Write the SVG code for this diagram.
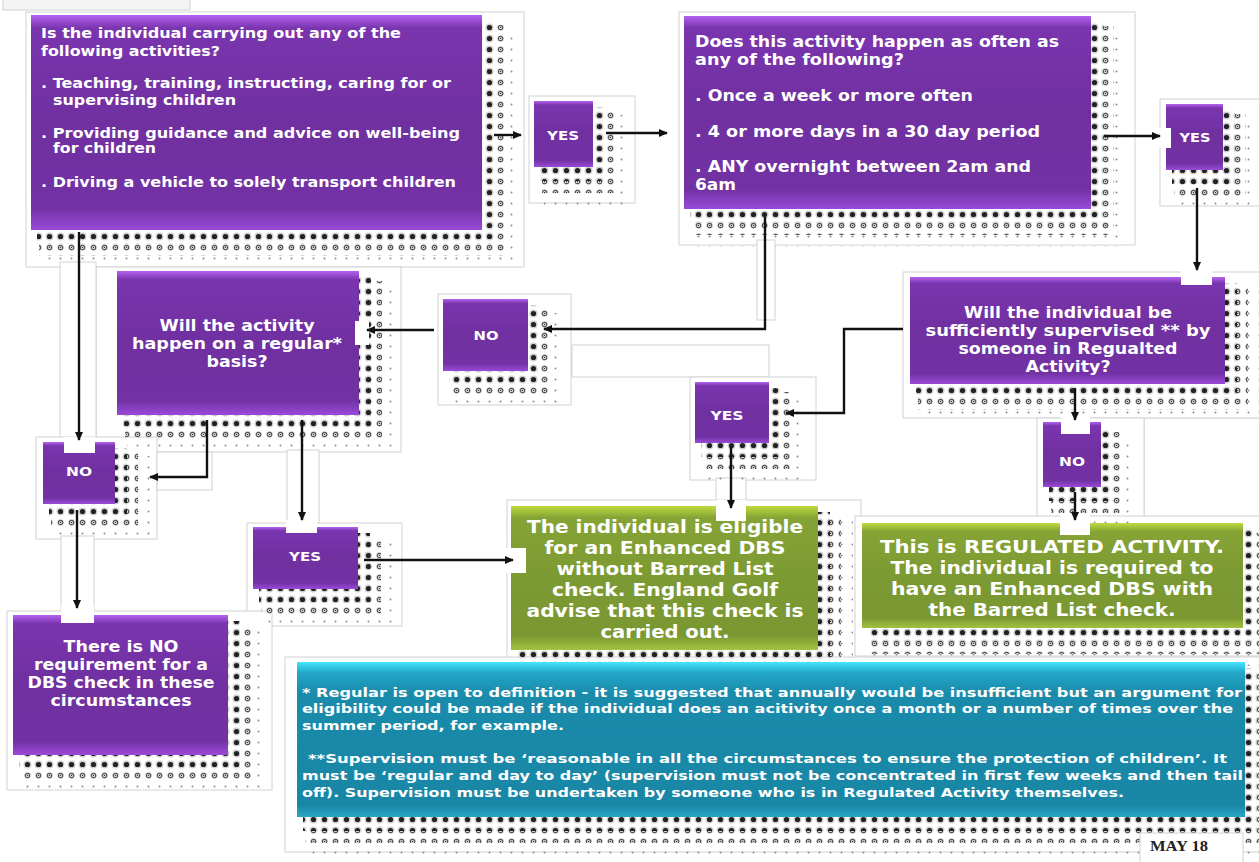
<svg xmlns="http://www.w3.org/2000/svg" width="1259" height="862" viewBox="0 0 1259 862">
<defs>
<style>
.pn{fill:#fff;stroke:#d2d2d2;stroke-width:1}
.nt{fill:#fff}
.ft{fill:url(#dFt)}
.md{fill:url(#dMd)}
.dk{fill:url(#dDk)}
.pu{fill:url(#gPu)}
.gn{fill:url(#gGn)}
.bl{fill:url(#gBl)}
.ar{fill:none;stroke:#111;stroke-width:2.4;marker-end:url(#ah)}
.t{font-family:"DejaVu Sans",Verdana,sans-serif;font-weight:bold;fill:#fff}
.s13{font-size:13.5px}
.s15{font-size:15px}
.s17{font-size:17.5px}
.sb{font-size:13px}
.yn{font-size:12.5px}
.c{text-anchor:middle}
</style>
<pattern id="dFt" width="11" height="11" patternUnits="userSpaceOnUse"><circle cx="5.5" cy="5.5" r="1" fill="#8a8a8a"/></pattern>
<pattern id="dMd" width="11" height="11" patternUnits="userSpaceOnUse"><circle cx="5.5" cy="5.5" r="3.4" fill="#e2e2e2"/><circle cx="5.5" cy="5.5" r="2.2" fill="#fff" stroke="#555" stroke-width="1.2"/><circle cx="5.5" cy="5.5" r="0.8" fill="#333"/></pattern>
<pattern id="dDk" width="11" height="11" patternUnits="userSpaceOnUse"><circle cx="5.5" cy="5.5" r="4" fill="#cfcfcf"/><circle cx="5.5" cy="5.5" r="2.6" fill="#222"/></pattern>
<linearGradient id="gPu" x1="0" y1="0" x2="0" y2="1">
<stop offset="0" stop-color="#b463f0"/><stop offset="0.06" stop-color="#7a35ae"/><stop offset="0.5" stop-color="#7030a0"/><stop offset="0.9" stop-color="#7232a4"/><stop offset="1" stop-color="#9a4ad8"/>
</linearGradient>
<linearGradient id="gGn" x1="0" y1="0" x2="0" y2="1">
<stop offset="0" stop-color="#bedc40"/><stop offset="0.08" stop-color="#86a336"/><stop offset="0.5" stop-color="#7c9a33"/><stop offset="0.9" stop-color="#7a9732"/><stop offset="1" stop-color="#a2c240"/>
</linearGradient>
<linearGradient id="gBl" x1="0" y1="0" x2="0" y2="1">
<stop offset="0" stop-color="#44e4ff"/><stop offset="0.07" stop-color="#22a6c8"/><stop offset="0.2" stop-color="#1a8bab"/><stop offset="0.92" stop-color="#1986a5"/><stop offset="1" stop-color="#2aa6c6"/>
</linearGradient>
<marker id="ah" viewBox="0 0 9 8" markerWidth="9" markerHeight="8" refX="8" refY="4" orient="auto" markerUnits="userSpaceOnUse"><path d="M0,0 L9,4 L0,8 z" fill="#111"/></marker>
</defs>
<rect width="1259" height="862" fill="#fff"/>
<g id="panels">
<rect x="3" y="-1" width="187" height="11" fill="#f4f4f4" stroke="#d2d2d2"/>
<rect class="pn" x="26" y="12" width="498" height="255"/>
<rect class="pn" x="529" y="96" width="106" height="107"/>
<rect class="pn" x="679" y="12" width="456" height="233"/>
<rect class="pn" x="1160" y="99" width="105" height="107"/>
<rect class="pn" x="1144" y="418" width="120" height="100"/>
<rect class="pn" x="903" y="272" width="362" height="146"/>
<rect class="pn" x="757" y="240" width="18" height="80"/>
<rect class="pn" x="572" y="345" width="197" height="32"/>
<rect class="pn" x="438" y="294" width="133" height="111"/>
<rect class="pn" x="96" y="267" width="305" height="185"/>
<rect class="pn" x="60" y="262" width="36" height="178"/>
<rect class="pn" x="36" y="437" width="121" height="102"/>
<rect class="pn" x="157" y="452" width="55" height="38"/>
<rect class="pn" x="287" y="450" width="32" height="80"/>
<rect class="pn" x="247" y="523" width="155" height="103"/>
<rect class="pn" x="61" y="536" width="33" height="80"/>
<rect class="pn" x="7" y="611" width="265" height="179"/>
<rect class="pn" x="690" y="377" width="126" height="103"/>
<rect class="pn" x="716" y="478" width="30" height="30"/>
<rect class="pn" x="1037" y="418" width="107" height="100"/>
<rect class="pn" x="507" y="500" width="354" height="160"/>
<rect class="pn" x="855" y="516" width="410" height="140"/>
<rect class="pn" x="285" y="657" width="980" height="195"/>
</g>
<g id="shadows">
<rect class="ft" x="41" y="29" width="476" height="239"/><rect class="md" x="39" y="25" width="466" height="231"/><rect class="dk" x="37" y="21" width="457" height="223"/>
<rect class="ft" x="544" y="115" width="84" height="90"/><rect class="md" x="542" y="111" width="74" height="82"/><rect class="dk" x="540" y="107" width="65" height="74"/>
<rect class="ft" x="694" y="30" width="432" height="217"/><rect class="md" x="692" y="26" width="422" height="209"/><rect class="dk" x="690" y="22" width="413" height="201"/>
<rect class="ft" x="1176" y="118" width="82" height="90"/><rect class="md" x="1174" y="114" width="72" height="82"/><rect class="dk" x="1172" y="110" width="63" height="74"/>
<rect class="ft" x="920" y="291" width="340" height="131"/><rect class="md" x="918" y="287" width="330" height="123"/><rect class="dk" x="916" y="283" width="321" height="115"/>
<rect class="ft" x="453" y="313" width="110" height="96"/><rect class="md" x="451" y="309" width="100" height="88"/><rect class="dk" x="449" y="305" width="91" height="80"/>
<rect class="ft" x="127" y="285" width="267" height="168"/><rect class="md" x="125" y="281" width="257" height="160"/><rect class="dk" x="123" y="277" width="248" height="152"/>
<rect class="ft" x="53" y="456" width="97" height="86"/><rect class="md" x="51" y="452" width="87" height="78"/><rect class="dk" x="49" y="448" width="78" height="70"/>
<rect class="ft" x="705" y="396" width="99" height="85"/><rect class="md" x="703" y="392" width="89" height="77"/><rect class="dk" x="701" y="388" width="80" height="69"/>
<rect class="ft" x="1053" y="436" width="83" height="89"/><rect class="md" x="1051" y="432" width="73" height="81"/><rect class="dk" x="1049" y="428" width="64" height="73"/>
<rect class="ft" x="263" y="541" width="130" height="86"/><rect class="md" x="261" y="537" width="120" height="78"/><rect class="dk" x="259" y="533" width="111" height="70"/>
<rect class="ft" x="521" y="520" width="332" height="168"/><rect class="md" x="519" y="516" width="322" height="160"/><rect class="dk" x="517" y="512" width="313" height="152"/>
<rect class="ft" x="872" y="537" width="406" height="129"/><rect class="md" x="870" y="533" width="396" height="121"/><rect class="dk" x="868" y="529" width="387" height="113"/>
<rect class="ft" x="23" y="629" width="240" height="164"/><rect class="md" x="21" y="625" width="230" height="156"/><rect class="dk" x="19" y="621" width="221" height="148"/>
<rect class="ft" x="307" y="676" width="973" height="179"/><rect class="md" x="305" y="672" width="963" height="171"/><rect class="dk" x="303" y="668" width="954" height="163"/>
</g>
<g id="q1">
<rect class="pu" x="31" y="15" width="451" height="215"/>
<text class="t s13" x="41" y="38" textLength="360" lengthAdjust="spacingAndGlyphs">Is the individual carrying out any of the</text>
<text class="t s13" x="41" y="56" textLength="179" lengthAdjust="spacingAndGlyphs">following activities?</text>
<text class="t s13" x="41" y="88" textLength="410" lengthAdjust="spacingAndGlyphs">. Teaching, training, instructing, caring for or</text>
<text class="t s13" x="53" y="105" textLength="183" lengthAdjust="spacingAndGlyphs">supervising children</text>
<text class="t s13" x="41" y="138" textLength="419" lengthAdjust="spacingAndGlyphs">. Providing guidance and advice on well-being</text>
<text class="t s13" x="53" y="153" textLength="103" lengthAdjust="spacingAndGlyphs">for children</text>
<text class="t s13" x="41" y="187" textLength="415" lengthAdjust="spacingAndGlyphs">. Driving a vehicle to solely transport children</text>
</g>
<g id="yes1">
<rect class="pu" x="534" y="101" width="59" height="66"/>
<text class="t yn c" x="563" y="139.5" textLength="32" lengthAdjust="spacingAndGlyphs">YES</text>
</g>
<g id="q2">
<rect class="pu" x="684" y="16" width="407" height="193"/>
<text class="t s15" x="695" y="47" textLength="364" lengthAdjust="spacingAndGlyphs">Does this activity happen as often as</text>
<text class="t s15" x="695" y="65" textLength="209" lengthAdjust="spacingAndGlyphs">any of the following?</text>
<text class="t s15" x="695" y="101" textLength="278" lengthAdjust="spacingAndGlyphs">. Once a week or more often</text>
<text class="t s15" x="695" y="137" textLength="345" lengthAdjust="spacingAndGlyphs">. 4 or more days in a 30 day period</text>
<text class="t s15" x="695" y="172" textLength="336" lengthAdjust="spacingAndGlyphs">. ANY overnight between 2am and</text>
<text class="t s15" x="695" y="190" textLength="41" lengthAdjust="spacingAndGlyphs">6am</text>
</g>
<g id="yes2">
<rect class="pu" x="1166" y="104" width="57" height="66"/>
<rect class="nt" x="1158" y="128" width="13" height="20"/>
<text class="t yn c" x="1195" y="142" textLength="31" lengthAdjust="spacingAndGlyphs">YES</text>
</g>
<g id="q4">
<rect class="pu" x="910" y="277" width="315" height="107"/>
<rect class="nt" x="1181" y="265" width="31" height="20"/>
<text class="t s15 c" x="1068" y="318" textLength="208" lengthAdjust="spacingAndGlyphs">Will the individual be</text>
<text class="t s15 c" x="1068" y="336" textLength="285" lengthAdjust="spacingAndGlyphs">sufficiently supervised ** by</text>
<text class="t s15 c" x="1068" y="354" textLength="219" lengthAdjust="spacingAndGlyphs">someone in Regualted</text>
<text class="t s15 c" x="1068" y="372" textLength="85" lengthAdjust="spacingAndGlyphs">Activity?</text>
</g>
<g id="no-mid">
<rect class="pu" x="443" y="299" width="85" height="72"/>
<text class="t yn c" x="486" y="340" textLength="25" lengthAdjust="spacingAndGlyphs">NO</text>
</g>
<g id="q3">
<rect class="pu" x="117" y="271" width="242" height="144"/>
<rect class="nt" x="355" y="321" width="14" height="24"/>
<text class="t s15 c" x="237" y="331" textLength="155" lengthAdjust="spacingAndGlyphs">Will the activity</text>
<text class="t s15 c" x="237" y="349" textLength="210" lengthAdjust="spacingAndGlyphs">happen on a regular*</text>
<text class="t s15 c" x="237" y="367" textLength="61" lengthAdjust="spacingAndGlyphs">basis?</text>
</g>
<g id="no-left">
<rect class="pu" x="43" y="442" width="72" height="62"/>
<rect class="nt" x="64" y="437" width="31" height="16"/>
<text class="t yn c" x="79" y="476" textLength="26" lengthAdjust="spacingAndGlyphs">NO</text>
</g>
<g id="yes-mid">
<rect class="pu" x="695" y="382" width="74" height="61"/>
<text class="t yn c" x="727" y="420" textLength="33" lengthAdjust="spacingAndGlyphs">YES</text>
</g>
<g id="no-right">
<rect class="pu" x="1043" y="422" width="58" height="65"/>
<rect class="nt" x="1061" y="415" width="29" height="19"/>
<text class="t yn c" x="1072" y="466" textLength="26" lengthAdjust="spacingAndGlyphs">NO</text>
</g>
<g id="yes-bottom">
<rect class="pu" x="253" y="527" width="105" height="62"/>
<rect class="nt" x="286" y="520" width="31" height="13"/>
<text class="t yn c" x="305" y="561" textLength="32" lengthAdjust="spacingAndGlyphs">YES</text>
</g>
<g id="no-requirement">
<rect class="pu" x="13" y="615" width="215" height="140"/>
<rect class="nt" x="61" y="605" width="33" height="18"/>
<text class="t s15 c" x="121" y="652" textLength="115" lengthAdjust="spacingAndGlyphs">There is NO</text>
<text class="t s15 c" x="121" y="670" textLength="174" lengthAdjust="spacingAndGlyphs">requirement for a</text>
<text class="t s15 c" x="121" y="688" textLength="187" lengthAdjust="spacingAndGlyphs">DBS check in these</text>
<text class="t s15 c" x="121" y="706" textLength="141" lengthAdjust="spacingAndGlyphs">circumstances</text>
</g>
<g id="eligible">
<rect class="gn" x="511" y="506" width="307" height="144"/>
<rect class="nt" x="716" y="500" width="30" height="21"/>
<rect class="nt" x="505" y="548" width="21" height="25"/>
<text class="t s17 c" x="665" y="533" textLength="276" lengthAdjust="spacingAndGlyphs">The individual is eligible</text>
<text class="t s17 c" x="665" y="554" textLength="241" lengthAdjust="spacingAndGlyphs">for an Enhanced DBS</text>
<text class="t s17 c" x="665" y="575" textLength="217" lengthAdjust="spacingAndGlyphs">without Barred List</text>
<text class="t s17 c" x="665" y="596" textLength="226" lengthAdjust="spacingAndGlyphs">check. England Golf</text>
<text class="t s17 c" x="665" y="617" textLength="277" lengthAdjust="spacingAndGlyphs">advise that this check is</text>
<text class="t s17 c" x="665" y="638" textLength="129" lengthAdjust="spacingAndGlyphs">carried out.</text>
</g>
<g id="regulated">
<rect class="gn" x="862" y="523" width="381" height="105"/>
<rect class="nt" x="1060" y="515" width="30" height="20"/>
<text class="t s17 c" x="1052" y="553" textLength="344" lengthAdjust="spacingAndGlyphs">This is REGULATED ACTIVITY.</text>
<text class="t s17 c" x="1052" y="574" textLength="323" lengthAdjust="spacingAndGlyphs">The individual is required to</text>
<text class="t s17 c" x="1052" y="595" textLength="322" lengthAdjust="spacingAndGlyphs">have an Enhanced DBS with</text>
<text class="t s17 c" x="1052" y="616" textLength="247" lengthAdjust="spacingAndGlyphs">the Barred List check.</text>
</g>
<g id="notes">
<rect class="bl" x="297" y="662" width="948" height="155"/>
<text class="t sb" x="302" y="697" textLength="940" lengthAdjust="spacingAndGlyphs">* Regular is open to definition - it is suggested that annually would be insufficient but an argument for</text>
<text class="t sb" x="302" y="713" textLength="931" lengthAdjust="spacingAndGlyphs">eligibility could be made if the individual does an acitivity once a month or a number of times over the</text>
<text class="t sb" x="302" y="730" textLength="262" lengthAdjust="spacingAndGlyphs">summer period, for example.</text>
<text class="t sb" x="308" y="763" textLength="919" lengthAdjust="spacingAndGlyphs">**Supervision must be ‘reasonable in all the circumstances to ensure the protection of children’. It</text>
<text class="t sb" x="302" y="780" textLength="941" lengthAdjust="spacingAndGlyphs">must be ‘regular and day to day’ (supervision must not be concentrated in first few weeks and then tail</text>
<text class="t sb" x="302" y="797" textLength="822" lengthAdjust="spacingAndGlyphs">off). Supervision must be undertaken by someone who is in Regulated Activity themselves.</text>
</g>
<g id="date">
<rect x="1140" y="833" width="103" height="32" fill="#fff" stroke="#d2d2d2"/>
<text x="1150" y="851" font-family="'Liberation Serif',serif" font-weight="bold" font-size="14" fill="#222" textLength="58" lengthAdjust="spacingAndGlyphs">MAY 18</text>
</g>
<g id="connectors">
<polyline class="ar" points="494,135 521,135"/>
<polyline class="ar" points="606,133 667,133"/>
<polyline class="ar" points="1104,136 1160,136"/>
<polyline class="ar" points="1197,188 1197,270"/>
<polyline class="ar" points="765,217 765,329 544,329"/>
<polyline class="ar" points="434,330 367,330"/>
<polyline class="ar" points="79,232 79,440"/>
<polyline class="ar" points="207,420 207,477 150,477"/>
<polyline class="ar" points="302,420 302,520"/>
<polyline class="ar" points="364,560 513,560"/>
<polyline class="ar" points="77,510 77,608"/>
<polyline class="ar" points="903,329 844,329 844,413 786,413"/>
<polyline class="ar" points="731,447 731,508"/>
<polyline class="ar" points="1075,388 1075,420"/>
<polyline class="ar" points="1075,492 1075,520"/>
</g>
</svg>
